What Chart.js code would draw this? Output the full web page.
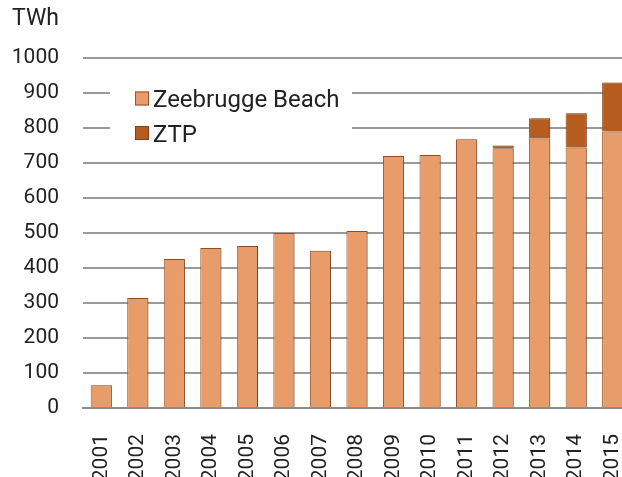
<!DOCTYPE html>
<html>
<head>
<meta charset="utf-8">
<script src="https://cdn.jsdelivr.net/npm/chart.js@4.4.1/dist/chart.umd.min.js"></script>
<style>
  html, body { margin: 0; padding: 0; background: #fff; overflow: hidden; }
  #wrap { position: relative; width: 640px; height: 477px; }
</style>
</head>
<body>
<div id="wrap"><canvas id="chart"></canvas></div>
<script>
// data (TWh)
const years = ['2001', '2002', '2003', '2004', '2005', '2006', '2007', '2008',
  '2009', '2010', '2011', '2012', '2013', '2014', '2015'];
const zeebrugge = [65, 314, 426, 457, 463, 500, 449, 506, 720, 723, 768, 742, 770, 744, 790];
const ztp = [null, null, null, null, null, null, null, null, null, null, null, 8, 58, 98, 140];
const unitLabel = 'TWh';

const FONT = 'Roboto, "Noto Sans", sans-serif';
const TEXT = '#222';

// legend box sitting inside the plot, plus the unit label above the axis
const insideLegend = {
  id: 'insideLegend',
  afterDraw(chart) {
    const ctx = chart.ctx;
    ctx.save();
    ctx.font = '23px ' + FONT;
    ctx.fillStyle = TEXT;
    ctx.textBaseline = 'alphabetic';
    ctx.textAlign = 'left';
    ctx.fillText(unitLabel, 12, 25);
    ctx.restore();
  },
  beforeDatasetsDraw(chart) {
    const ctx = chart.ctx;
    const a = chart.chartArea;
    const x0 = a.left + 27, y0 = a.top + 22;
    ctx.save();
    ctx.fillStyle = '#fff';
    ctx.fillRect(x0, y0, 242, 68);
    ctx.font = '24px ' + FONT;
    ctx.textBaseline = 'alphabetic';
    chart.data.datasets.forEach((ds, i) => {
      const cy = y0 + 18.5 + i * 34.5;
      ctx.fillStyle = ds.backgroundColor;
      ctx.strokeStyle = ds.borderColor;
      ctx.lineWidth = 1;
      ctx.fillRect(x0 + 25, cy - 7, 14, 14);
      ctx.strokeRect(x0 + 25.5, cy - 6.5, 13, 13);
      ctx.fillStyle = TEXT;
      ctx.fillText(ds.label, x0 + 43, cy + 8.5);
    });
    ctx.restore();
  },
  // soft shadow behind the bars, like the original
  beforeDatasetDraw(chart) {
    const ctx = chart.ctx;
    ctx.save();
    ctx.shadowColor = 'rgba(0,0,0,0.22)';
    ctx.shadowOffsetX = 2;
    ctx.shadowOffsetY = 0;
    ctx.shadowBlur = 2;
  },
  afterDatasetDraw(chart) {
    chart.ctx.restore();
  }
};

new Chart(document.getElementById('chart'), {
  type: 'bar',
  data: {
    labels: years,
    datasets: [
      {
        label: 'Zeebrugge Beach',
        data: zeebrugge,
        backgroundColor: '#e89c6a',
        borderColor: '#9a5328',
        borderWidth: 1,
        categoryPercentage: 1,
        barPercentage: 0.58
      },
      {
        label: 'ZTP',
        data: ztp,
        backgroundColor: '#b65c1e',
        borderColor: '#8a3f12',
        borderWidth: 1,
        categoryPercentage: 1,
        barPercentage: 0.58
      }
    ]
  },
  options: {
    responsive: true,
    maintainAspectRatio: false,
    animation: false,
    layout: { padding: { top: 58, right: 9, left: 0, bottom: 0 } },
    plugins: {
      legend: { display: false },
      tooltip: { enabled: false }
    },
    scales: {
      x: {
        stacked: true,
        grid: { display: false },
        border: { color: '#8c8c8c', width: 2 },
        ticks: {
          color: TEXT,
          font: { family: FONT, size: 21 },
          minRotation: 90,
          maxRotation: 90,
          padding: 18
        },
        afterFit(scale) {
          scale.height = 69;
          // the plot runs off the right edge in the original, so no label padding
          scale.paddingLeft = 0;
          scale.paddingRight = 0;
        }
      },
      y: {
        stacked: true,
        min: 0,
        max: 1000,
        grid: { color: '#9a9a9a', lineWidth: 2, drawTicks: false },
        border: { display: false },
        ticks: {
          stepSize: 100,
          color: TEXT,
          font: { family: FONT, size: 21 },
          padding: 24,
          callback: (v) => String(v)
        },
        afterFit(scale) { scale.width = 83; }
      }
    }
  },
  plugins: [insideLegend]
});
</script>
</body>
</html>
